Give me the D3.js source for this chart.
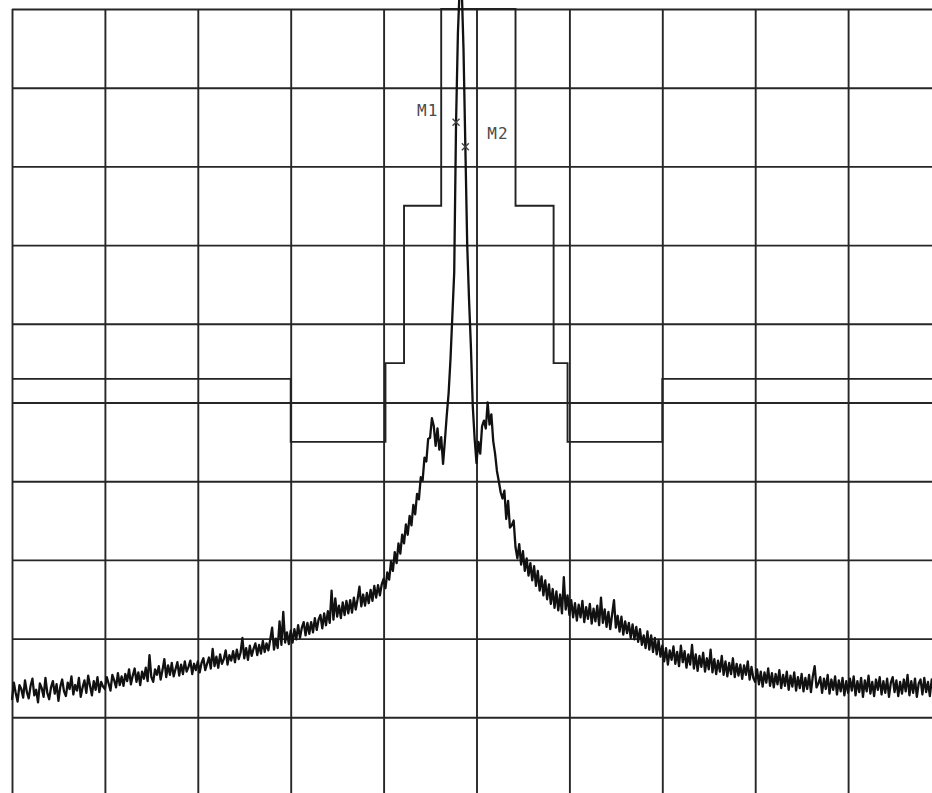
<!DOCTYPE html>
<html>
<head>
<meta charset="utf-8">
<script src="https://cdn.jsdelivr.net/npm/d3@7"></script>
<style>
  body { margin: 0; background: #fff; }
  svg { display: block; }
  .grid line { stroke: #262626; stroke-width: 1.9px; }
  .grid path { display: none; }
  .mask { fill: none; stroke: #222; stroke-width: 1.9px; }
  .trace { fill: none; stroke: #111; stroke-width: 2.3px; stroke-linejoin: round; }
  .marker { stroke: #444; stroke-width: 1.4px; }
  .mlabel { font-family: "DejaVu Sans Mono", monospace; font-size: 16px; fill: #4a4a4a; letter-spacing: 1px; }
</style>
</head>
<body>
<div id="plot"></div>
<script>
// screen divisions: 10 across, 10 dB per division down from the reference level
var xTicks = [-5, -4, -3, -2, -1, 0, 1, 2, 3, 4, 5];
var yTicks = [0, -10, -20, -30, -40, -50, -60, -70, -80, -90, -100];

// limit mask corners (division, dB)
var maskFreq  = [-5, -2, -2, -0.98, -0.98, -0.78, -0.78, -0.38, -0.38, 0.42, 0.42, 0.83, 0.83, 0.98, 0.98, 2, 2, 5];
var maskLevel = [-47, -47, -55, -55, -45, -45, -25, -25, 0, 0, -25, -25, -45, -45, -55, -55, -47, -47];

// markers
var markerNames = ["M1", "M2"];
var markerFreq  = [-0.22, -0.12];
var markerLevel = [-14.4, -17.5];

// sweep: first bin and bin width in divisions (50 bins per division)
var sweepStart = -5;
var sweepStep = 0.02;

// measured trace, dB, one row per division
var traceLevels = [
  -87.8, -85.6, -86.9, -88.0, -85.9, -86.4, -87.5, -85.3, -86.8, -87.6,
  -86.0, -85.1, -87.2, -86.5, -88.1, -85.7, -86.3, -87.4, -85.0, -86.9,
  -87.7, -86.2, -85.4, -87.0, -85.8, -87.9, -86.1, -85.2, -86.7, -87.3,
  -85.6, -86.4, -84.8, -87.1, -85.9, -86.6, -85.0, -87.4, -86.2, -85.3,
  -86.9, -84.7, -86.0, -87.2, -85.4, -86.5, -84.9, -86.8, -85.5, -86.1,

  -86.4, -84.9, -85.7, -86.6, -84.6, -85.3, -86.2, -84.4, -85.9, -84.8,
  -86.0, -84.5, -85.4, -83.9, -85.8, -84.7, -83.8, -85.5, -84.3, -85.9,
  -84.2, -85.1, -83.7, -85.4, -82.1, -84.9, -85.5, -83.9, -84.6, -83.5,
  -85.2, -84.0, -82.6, -84.9, -83.4, -84.6, -83.1, -84.8, -83.9, -83.0,
  -84.7, -83.3, -84.5, -82.9, -84.2, -83.6, -82.8, -84.5, -83.2, -84.0,

  -82.9, -84.3, -83.1, -82.5, -84.0, -83.2, -82.4, -83.8, -81.3, -83.5,
  -82.3, -83.7, -82.0, -83.2, -82.6, -81.5, -83.3, -82.1, -82.8, -81.6,
  -83.0, -81.4, -82.6, -81.8, -79.9, -82.5, -81.2, -82.7, -80.9, -82.2,
  -81.3, -80.6, -82.1, -80.8, -81.9, -80.3, -81.7, -80.6, -81.5, -80.1,
  -78.6, -81.4, -80.0, -81.2, -77.8, -80.8, -76.6, -80.5, -79.2, -80.7,

  -79.0, -80.5, -78.8, -80.1, -78.3, -79.9, -78.6, -77.9, -79.6, -78.0,
  -79.4, -77.9, -79.2, -77.4, -78.9, -77.6, -77.0, -78.7, -76.8, -78.3,
  -76.5, -78.0, -73.9, -77.6, -74.9, -77.2, -75.8, -77.4, -75.4, -77.0,
  -75.2, -76.8, -75.1, -76.7, -74.8, -76.3, -75.0, -73.4, -75.9, -74.4,
  -75.8, -74.2, -75.5, -73.8, -75.2, -73.3, -74.8, -73.2, -74.5, -73.1,

  -72.4, -73.6, -71.6, -72.5, -70.2, -71.4, -69.0, -70.4, -67.9, -69.2,
  -66.8, -67.9, -65.5, -66.8, -64.4, -65.6, -63.0, -64.2, -61.6, -62.3,
  -59.5, -59.9, -57.0, -57.5, -54.6, -54.5, -52.0, -53.0, -55.5, -53.3,
  -56.0, -54.4, -57.8, -54.8, -51.6, -48.8, -44.5, -39.0, -33.5, -14.4,
  -3.0, 3.0, 3.0, -5.0, -17.5, -30.0, -37.0, -43.0, -50.5, -54.6,

  -57.7, -55.0, -56.5, -53.0, -52.3, -53.3, -50.0, -52.8, -51.5, -54.9,
  -56.5, -58.7, -60.0, -61.4, -62.2, -61.2, -64.8, -62.5, -65.9, -65.6,
  -65.0, -68.4, -69.8, -68.0, -70.6, -68.9, -71.4, -69.8, -72.0, -70.4,
  -72.6, -70.8, -73.3, -71.4, -73.9, -72.1, -74.5, -72.6, -75.0, -73.1,
  -75.6, -73.7, -76.1, -74.0, -76.4, -74.4, -76.8, -72.2, -76.3, -74.5,

  -77.0, -75.1, -77.3, -75.5, -77.7, -75.7, -77.3, -75.2, -77.9, -76.0,
  -77.5, -75.6, -78.1, -76.2, -77.8, -75.8, -78.3, -74.8, -78.0, -76.3,
  -78.5, -76.6, -78.8, -76.9, -75.1, -78.6, -77.1, -79.1, -77.2, -79.5,
  -77.8, -79.3, -78.0, -79.9, -78.2, -80.1, -78.5, -80.4, -78.8, -80.8,
  -79.6, -81.2, -79.1, -81.4, -79.6, -81.7, -79.9, -82.0, -80.2, -82.3,

  -80.9, -82.9, -81.2, -83.3, -81.5, -82.7, -81.0, -83.2, -81.7, -83.5,
  -80.9, -83.0, -81.6, -83.7, -82.0, -83.3, -80.8, -83.8, -82.0, -84.1,
  -82.2, -83.6, -81.8, -84.2, -82.5, -83.9, -81.4, -84.3, -82.6, -84.5,
  -82.8, -84.2, -82.2, -84.6, -82.9, -84.8, -83.1, -84.5, -82.5, -84.9,
  -83.2, -84.7, -83.3, -85.1, -83.4, -84.6, -82.9, -85.2, -83.6, -85.0,

  -85.5, -83.9, -85.8, -84.2, -86.1, -84.3, -85.6, -83.8, -86.0, -84.4,
  -86.2, -84.5, -85.8, -84.0, -86.3, -84.6, -86.0, -84.2, -86.5, -84.7,
  -86.1, -84.3, -86.6, -84.9, -86.3, -84.5, -86.7, -85.0, -86.4, -84.6,
  -86.8, -84.8, -83.5, -86.2, -85.7, -84.9, -86.9, -85.1, -86.4, -84.6,
  -87.0, -85.2, -86.5, -84.8, -87.1, -85.3, -86.7, -85.0, -87.2, -85.4,

  -86.9, -85.1, -86.6, -84.8, -87.2, -85.4, -86.8, -85.0, -87.4, -85.3,
  -86.7, -84.7, -87.0, -85.5, -87.3, -85.2, -86.5, -84.9, -87.1, -85.4,
  -86.9, -85.1, -87.4, -85.6, -84.9, -86.8, -85.3, -87.3, -85.5, -87.0,
  -85.2, -86.7, -84.6, -87.2, -85.4, -86.9, -85.1, -87.4, -85.7, -85.2,
  -87.1, -85.0, -86.8, -85.5, -87.3, -85.2, -86.7, -84.9, -87.0, -85.5
];

const width = 932;
const height = 793;

var svg = d3.select("#plot")
    .append("svg")
    .attr("width", width)
    .attr("height", height)

// 93 px per division across, 78.7 px per division down
var x = d3.scaleLinear()
    .domain([-5, 5])
    .range([12, 941]);

var y = d3.scaleLinear()
    .domain([0, -100])
    .range([9, 796]);

// graticule from the axes, ticks stretched over the whole screen
svg.append("g")
    .attr("class", "grid")
    .attr("transform", "translate(0," + y(0) + ")")
    .call(d3.axisTop(x).tickValues(xTicks).tickSize(-(y(-100) - y(0))).tickFormat(""));

svg.append("g")
    .attr("class", "grid")
    .attr("transform", "translate(" + x(-5) + ",0)")
    .call(d3.axisLeft(y).tickValues(yTicks).tickSize(-(x(5) - x(-5))).tickFormat(""));

// limit line
var maskLine = d3.line()
    .x(function (d, i) { return x(maskFreq[i]); })
    .y(function (d) { return y(d); });

svg.append("path")
    .attr("class", "mask")
    .attr("d", maskLine(maskLevel));

// spectrum trace
var traceLine = d3.line()
    .x(function (d, i) { return x(sweepStart + i * sweepStep); })
    .y(function (d) { return y(d); });

svg.append("path")
    .attr("class", "trace")
    .attr("d", traceLine(traceLevels));

// markers: small crosses with their names
var markers = svg.selectAll(".mk")
    .data(markerNames)
    .join("g")
    .attr("class", "mk")
    .attr("transform", function (d, i) { return "translate(" + x(markerFreq[i]) + "," + y(markerLevel[i]) + ")"; });

markers.append("path")
    .attr("class", "marker")
    .attr("d", "M-3.5,-3.5L3.5,3.5M3.5,-3.5L-3.5,3.5");

markers.append("text")
    .attr("class", "mlabel")
    .attr("x", function (d, i) { return i === 0 ? -39 : 22; })
    .attr("y", function (d, i) { return i === 0 ? -6 : -8; })
    .text(function (d) { return d; });
</script>
</body>
</html>
